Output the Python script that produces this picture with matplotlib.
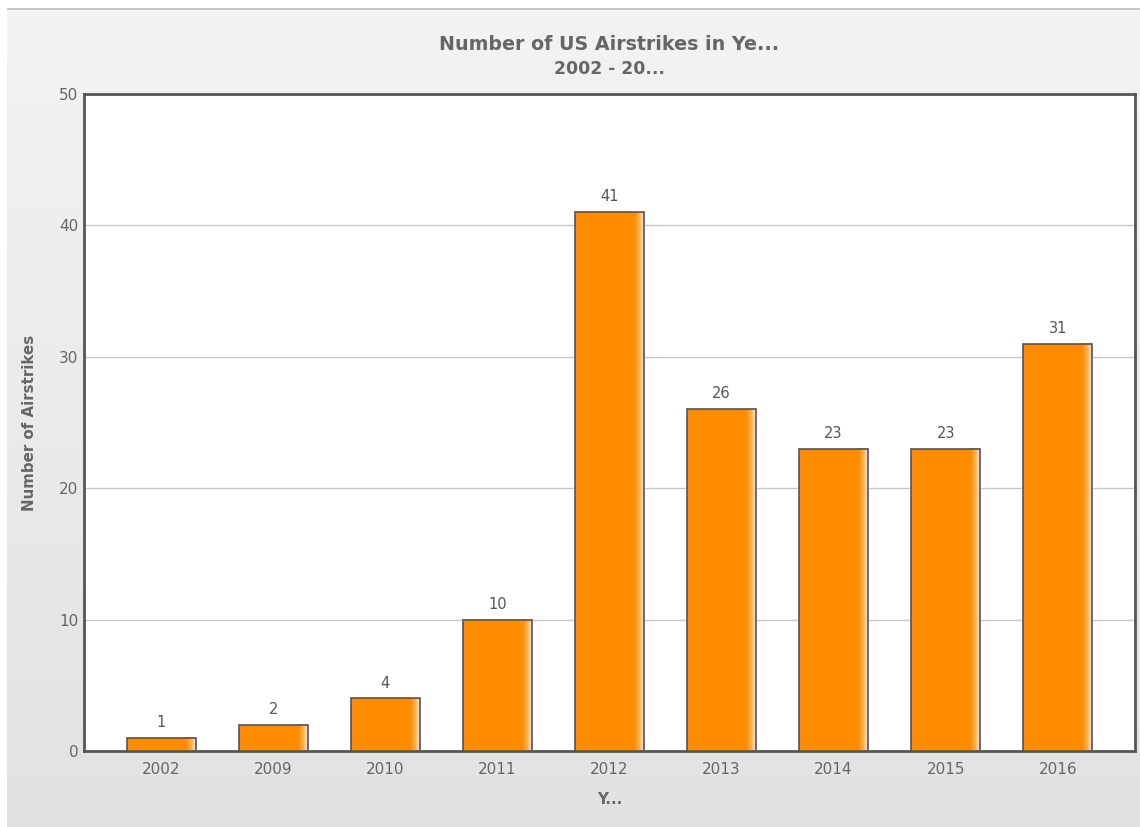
import numpy as np
import matplotlib
matplotlib.use('Agg')
import matplotlib.pyplot as plt
from matplotlib.colors import LinearSegmentedColormap, to_rgb

years = ['2002', '2009', '2010', '2011', '2012', '2013', '2014', '2015', '2016']
airstrikes = [1, 2, 4, 10, 41, 26, 23, 23, 31]
y_ticks = [0, 10, 20, 30, 40, 50]

W, H = 1140, 827
fig = plt.figure(figsize=(W / 100, H / 100), dpi=100)
fig.patch.set_facecolor('white')

# gray gradient background with a thin border line on top
bg = fig.add_axes([7 / W, 0, 1 - 7 / W, 1 - 8 / H], zorder=-10)
grad = np.linspace(0, 1, 256).reshape(-1, 1)
bg.imshow(grad, aspect='auto', cmap=LinearSegmentedColormap.from_list('bg', ['#f3f3f3', '#e2e2e2']),
          extent=[0, 1, 0, 1], origin='upper')
bg.axhline(1, color='#c4c4c4', lw=2)
bg.set_xlim(0, 1)
bg.set_ylim(0, 1)
bg.axis('off')

# plot area in pixels: left 84, right 1135, top 94, bottom 751
ax = fig.add_axes([84 / W, 1 - 751 / H, (1135 - 84) / W, (751 - 94) / H])
ax.set_facecolor('white')

x = np.arange(len(years))
bars = ax.bar(x, airstrikes, width=0.62, color='#ff8c00', edgecolor='none', zorder=3)
# outlines on top of the sheen
ax.bar(x, airstrikes, width=0.62, fill=False, edgecolor='#555555', linewidth=1.2, zorder=5)

# white sheen on the right side of each bar
orange = np.array(to_rgb('#ff8c00'))
white = np.array(to_rgb('#fff3e6'))
t = np.linspace(0, 1, 40) ** 1.6
sheen = (orange[None, :] * (1 - t[:, None]) + white[None, :] * t[:, None])[None, :, :]
for b in bars:
    x0, w, h = b.get_x(), b.get_width(), b.get_height()
    ax.imshow(sheen, aspect='auto', extent=[x0 + w * 0.84, x0 + w, 0, h], zorder=4,
              interpolation='bilinear')
    ax.text(x0 + w / 2, h + 0.6, str(int(h)), ha='center', va='bottom',
            fontsize=10.5, color='#555555', zorder=6)

ax.set_xlim(-0.69, len(years) - 1 + 0.69)
ax.set_ylim(0, 50)
ax.set_yticks(y_ticks)
ax.set_xticks(x)
ax.set_xticklabels(years)
ax.yaxis.grid(True, color='#c8c8c8', lw=1, zorder=0)
ax.set_axisbelow(True)
ax.tick_params(axis='both', length=0, labelsize=11, labelcolor='#666666')
ax.tick_params(axis='y', pad=4)
ax.tick_params(axis='x', pad=8)
for s in ax.spines.values():
    s.set_color('#555555')
    s.set_linewidth(2)

ax.set_ylabel('Number of Airstrikes', fontsize=10.8, fontweight='bold', color='#666666', labelpad=16)
ax.set_xlabel('Y...', fontsize=10.8, fontweight='bold', color='#666666', labelpad=11)

fig.text(609 / W, 1 - 44 / H, 'Number of US Airstrikes in Ye...', ha='center', va='center',
         fontsize=13.7, fontweight='bold', color='#666666')
fig.text(609 / W, 1 - 69 / H, '2002 - 20...', ha='center', va='center',
         fontsize=12.4, fontweight='bold', color='#666666')

fig.savefig('out.png', dpi=100, facecolor=fig.get_facecolor())
